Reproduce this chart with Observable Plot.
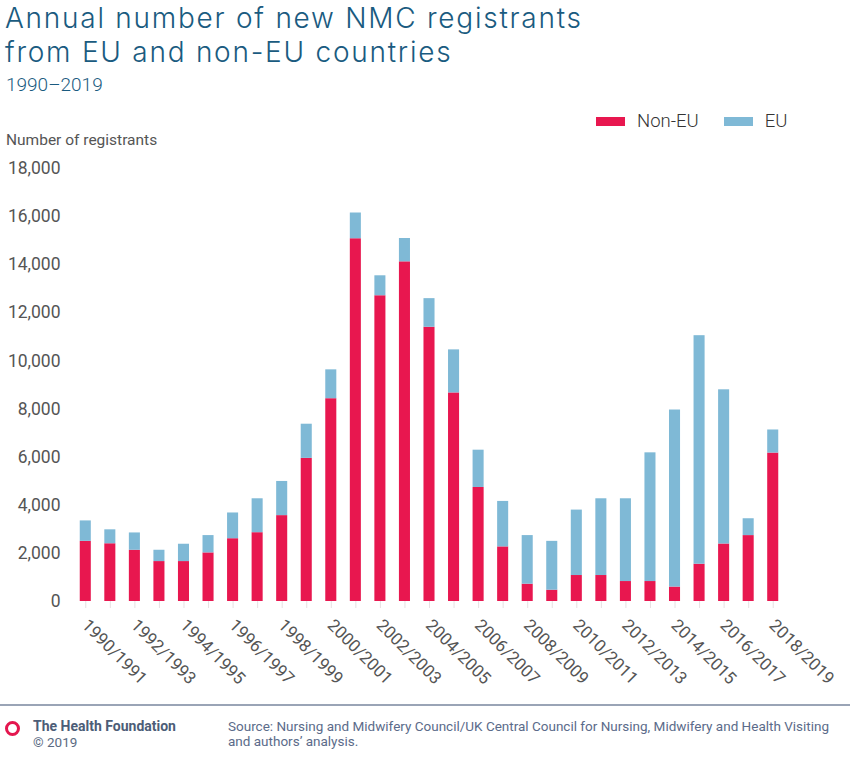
<!DOCTYPE html>
<html>
<head>
<meta charset="utf-8">
<script src="https://cdn.jsdelivr.net/npm/d3@7"></script>
<script src="https://cdn.jsdelivr.net/npm/@observablehq/plot@0.6"></script>
<style>
  html, body { margin: 0; padding: 0; background: #fff; }
  #wrap { position: relative; width: 850px; height: 770px; font-family: Roboto, "Liberation Sans", sans-serif; overflow: hidden; }
  .title { position: absolute; left: 5px; font-family: Inter, Roboto, sans-serif; font-size: 28px; font-weight: 300; line-height: 34px; height: 34px; color: #1a5b80; letter-spacing: 1.75px; white-space: nowrap; }
  .t1 { top: 1px; }
  .t2 { top: 35px; }
  .subtitle { position: absolute; left: 6px; top: 73px; font-size: 19px; font-weight: 300; color: #1a5b80; }
  .ylabel { position: absolute; left: 6px; top: 131px; font-size: 15.5px; color: #555; font-weight: 400; }
  .legend { position: absolute; top: 110px; left: 596px; font-size: 18.5px; font-weight: 300; color: #333; display: flex; align-items: center; }
  .sw { display: inline-block; width: 29px; height: 9px; margin-right: 12px; }
  .legend span.lab { margin-right: 25px; }
  #chart { position: absolute; left: 0; top: 150px; }
  .rule { position: absolute; left: 0; top: 704px; width: 850px; height: 2px; background: #9aa4b6; }
  .logo { position: absolute; left: 5px; top: 721px; width: 9px; height: 9px; border: 3.5px solid #e4174f; border-radius: 50%; }
  .org { position: absolute; left: 33px; top: 719px; font-size: 14px; font-weight: 700; color: #4c5d77; line-height: 15px; }
  .copy { position: absolute; left: 33px; top: 735px; font-size: 13.5px; color: #5b6b83; line-height: 15px; }
  .source { position: absolute; left: 228px; top: 719px; font-size: 13.5px; color: #5b6b8a; line-height: 15px; width: 620px; }
</style>
</head>
<body>
<div id="wrap">
  <div class="title t1">Annual number of new NMC registrants</div>
  <div class="title t2">from EU and non-EU countries</div>
  <div class="subtitle">1990–2019</div>
  <div class="legend"><i class="sw" style="background:#e8174f"></i><span class="lab">Non-EU</span><i class="sw" style="background:#7fb9d6"></i><span>EU</span></div>
  <div class="ylabel">Number of registrants</div>
  <div id="chart"></div>
  <div class="rule"></div>
  <div class="logo"></div>
  <div class="org">The Health Foundation</div>
  <div class="copy">© 2019</div>
  <div class="source">Source: Nursing and Midwifery Council/UK Central Council for Nursing, Midwifery and Health Visiting<br>and authors’ analysis.</div>
</div>
<script>
const years = ["1990/1991","1991/1992","1992/1993","1993/1994","1994/1995","1995/1996","1996/1997","1997/1998","1998/1999","1999/2000","2000/2001","2001/2002","2002/2003","2003/2004","2004/2005","2005/2006","2006/2007","2007/2008","2008/2009","2009/2010","2010/2011","2011/2012","2012/2013","2013/2014","2014/2015","2015/2016","2016/2017","2017/2018","2018/2019"];
const nonEU = [2500,2400,2130,1660,1660,2020,2610,2860,3570,5950,8430,15080,12710,14120,11400,8670,4740,2270,720,470,1080,1080,830,830,600,1550,2390,2740,6170];
const eu = [850,580,720,470,720,720,1070,1410,1420,1420,1200,1070,830,970,1190,1790,1550,1890,2020,2030,2720,3190,3440,5350,7360,9500,6410,700,960];
const labelledYears = years.filter((d, i) => i % 2 === 0);
const seriesNames = ["Non-EU","EU"];
const seriesColors = ["#e8174f","#7fb9d6"];
const yTicks = [0,2000,4000,6000,8000,10000,12000,14000,16000,18000];

const data = [
  ...years.map((y, i) => ({year: y, series: "Non-EU", value: nonEU[i]})),
  ...years.map((y, i) => ({year: y, series: "EU", value: eu[i]}))
];

const chart = Plot.plot({
  width: 850,
  height: 550,
  marginTop: 18,
  marginBottom: 99,
  marginLeft: 73,
  marginRight: 65,
  style: {fontFamily: "Roboto, 'Liberation Sans', sans-serif", fontSize: "16.5px", color: "#555", background: "transparent"},
  x: {domain: years, paddingInner: 0.55, paddingOuter: 0.275, round: false, label: null},
  y: {domain: [0, 18000], label: null},
  color: {domain: seriesNames, range: seriesColors},
  marks: [
    Plot.gridY(yTicks, {stroke: "#e8e8e8", strokeOpacity: 1, x1: 72, x2: 784}),
    Plot.barY(data, {x: "year", y: "value", fill: "series", order: null}),
    Plot.ruleY([0], {stroke: "#999", strokeWidth: 1, x1: 72, x2: 784}),
    Plot.axisY({ticks: yTicks, tickSize: 0, tickPadding: 13, tickFormat: d3.format(","), fill: "#555", fontSize: 17.5, label: null}),
    Plot.axisX({ticks: years, tickSize: 7, stroke: "#e6e0e2", tickFormat: () => "", label: null}),
    Plot.axisX({ticks: labelledYears, tickSize: 0, tickPadding: 21, dx: -1, fill: "#555", tickRotate: 45, fontSize: 17, label: null})
  ]
});
document.getElementById("chart").appendChild(chart);
</script>
</body>
</html>
